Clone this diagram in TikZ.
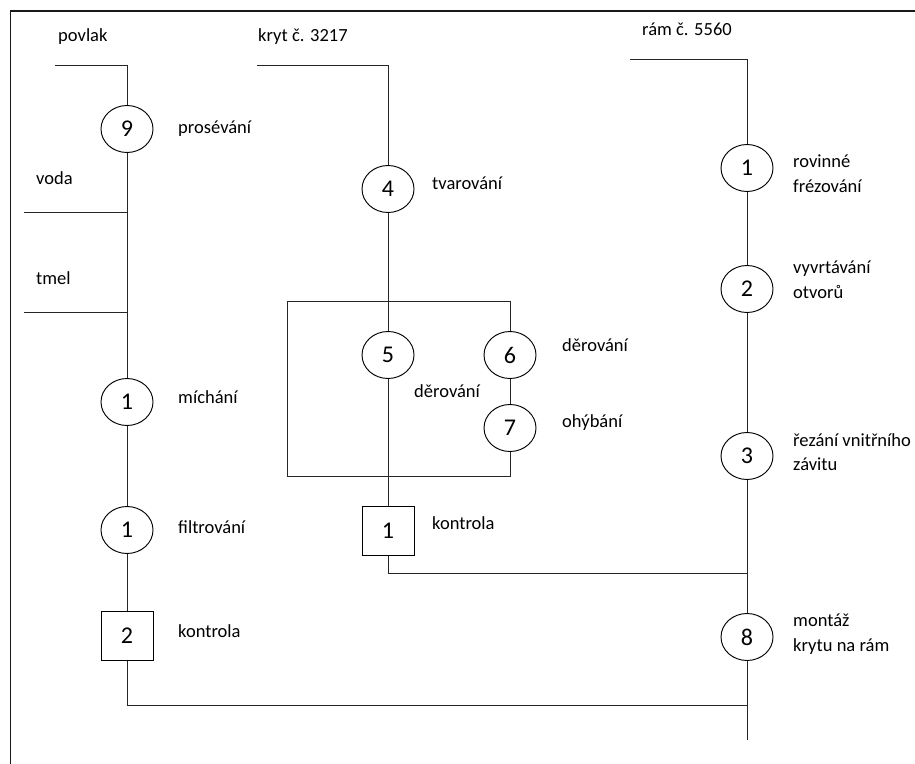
\documentclass[tikz,border=0pt]{standalone}
\usepackage{fontspec}
\setmainfont{Carlito}
\usepackage{tikz}
\usetikzlibrary{shapes.geometric, positioning}

\begin{document}
\begin{tikzpicture}[x=0.03cm, y=-0.03cm,
        every node/.style={font=\fontsize{15.8}{21}\selectfont},
        oper/.style={ellipse, draw, line width=0.8pt, minimum width=1.56cm, minimum height=1.41cm, inner sep=0pt, font=\fontsize{20.5}{22}\selectfont},
        check/.style={rectangle, draw, line width=0.8pt, minimum width=1.56cm, minimum height=1.47cm, inner sep=0pt, font=\fontsize{20.5}{22}\selectfont},
        txt/.style={anchor=west, inner sep=0pt, align=left},
        flow/.style={line width=0.8pt, black!85}
    ]
    \useasboundingbox (0,0) rectangle (915,764);
    \draw[line width=1.6pt, black!90] (10.5,764) -- (10.5,11) -- (915,11);
%
    % povlak
    \node[txt] (lPovlak) at (58,37) {povlak};
    \node[oper] (c9) at (127,129) {9};
    \node[txt] (lSit) at (178,129) {prosévání};
    \node[txt] (lVoda) at (36,178) {voda};
    \node[txt] (lTmel) at (36,278) {tmel};
    \node[oper] (cMix) at (127,402) {1};
    \node[txt] (lMix) at (178,397) {míchání};
    \node[oper] (cFil) at (127,530) {1};
    \node[txt] (lFil) at (178,527) {filtrování};
    \node[check] (k2) at (127,636) {2};
    \node[txt] (lK2) at (178,631) {kontrola};
%
    % kryt
    \node[txt] (lKryt) at (258,37) {kryt č. 3217};
    \node[oper] (c4) at (388,189) {4};
    \node[txt] (lTvar) at (432,183) {tvarování};
    \node[oper] (c5) at (388,355) {5};
    \node[oper] (c6) at (510,355) {6};
    \node[oper] (c7) at (510,428) {7};
    \node[txt] (lDer) at (414,391) {děrování};
    \node[txt] (lDer2) at (562,345) {děrování};
    \node[txt] (lOhyb) at (562,423) {ohýbání};
    \node[check] (k1) at (388,531) {1};
    \node[txt] (lK1) at (432,523) {kontrola};
%
    % ram
    \node[txt] (lRam) at (642,29) {rám č. 5560};
    \node[oper] (r1) at (747,168) {1};
    \node[txt] (lR1) at (793,174) {rovinné\\frézování};
    \node[oper] (r2) at (747,289) {2};
    \node[txt] (lR2) at (793,280) {vyvrtávání\\otvorů};
    \node[txt] (lR3) at (793,452) {řezání vnitřního\\závitu};
    \node[oper] (r3) at (747,456) {3};
    \node[oper] (r8) at (747,637) {8};
    \node[txt] (lR8) at (793,634) {montáž\\krytu na rám};
%
    \coordinate (povlakIn) at (55,65);
    \coordinate (vodaIn) at (24,212);
    \coordinate (tmelIn) at (24,312);
    \coordinate (krytIn) at (257,65);
    \coordinate (ramIn) at (630,59);
    \coordinate (blkNW) at (287,301);
    \coordinate (blkSW) at (287,476);
    \coordinate (jMid) at (747,573);
    \coordinate (jLeft) at (747,705);
    \coordinate (ramOut) at (747,740);
%
    \draw[flow] (povlakIn) -| (c9);
    \draw[flow] (c9) -- (cMix);
    \draw[flow] (vodaIn) -- (vodaIn -| c9);
    \draw[flow] (tmelIn) -- (tmelIn -| c9);
    \draw[flow] (cMix) -- (cFil);
    \draw[flow] (cFil) -- (k2);
    \draw[flow] (k2) |- (jLeft);
%
    \draw[flow] (krytIn) -| (c4);
    \draw[flow] (c4) -- (c5);
    \draw[flow] (c5) -- (k1);
    \draw[flow] (c6) |- (blkNW) -- (blkSW) -| (c7);
    \draw[flow] (c6) -- (c7);
    \draw[flow] (k1) |- (jMid);
%
    \draw[flow] (ramIn) -| (r1);
    \draw[flow] (r1) -- (r2);
    \draw[flow] (r2) -- (r3);
    \draw[flow] (r3) -- (r8);
    \draw[flow] (r8) -- (ramOut);
\end{tikzpicture}
\end{document}
